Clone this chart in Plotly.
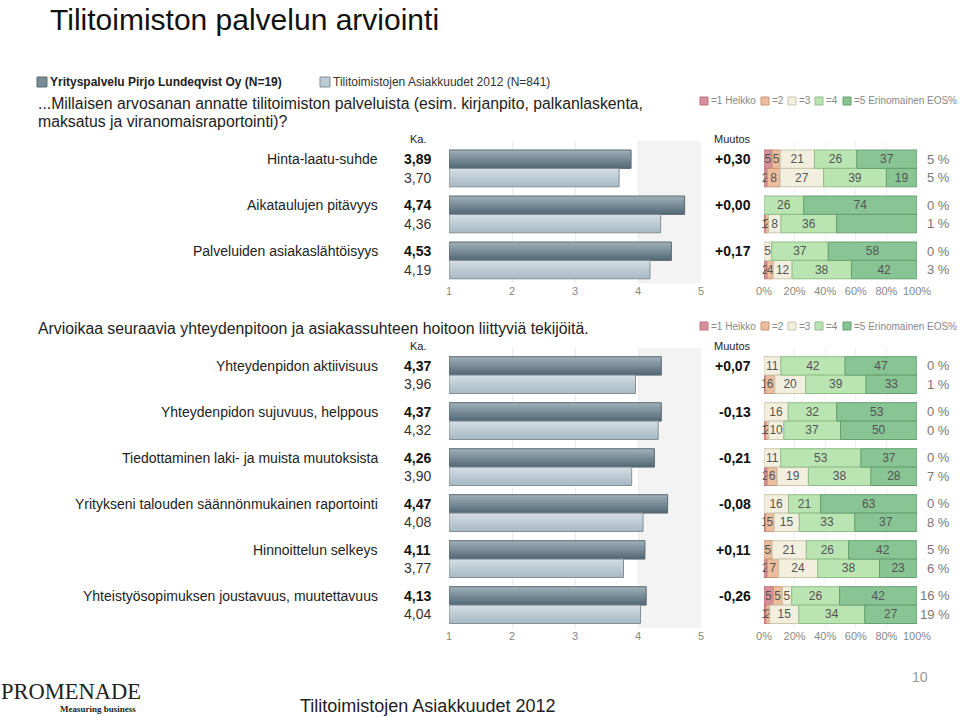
import plotly.graph_objects as go

W, H = 960, 717


def px(x):
    return x / W


def py(y):
    return 1 - y / H


# ---- data ----
company_name = "Yrityspalvelu Pirjo Lundeqvist Oy (N=19)"
bench_name = "Tilitoimistojen Asiakkuudet 2012 (N=841)"
level_labels = ["=1 Heikko", "=2", "=3", "=4", "=5 Erinomainen"]
pct_ticks = [0, 20, 40, 60, 80, 100]

s1_question = ["...Millaisen arvosanan annatte tilitoimiston palveluista (esim. kirjanpito, palkanlaskenta,",
               "maksatus ja viranomaisraportointi)?"]
s1_items = ["Hinta-laatu-suhde", "Aikataulujen pitävyys", "Palveluiden asiakaslähtöisyys"]
s1_company_mean = [3.89, 4.74, 4.53]
s1_bench_mean = [3.70, 4.36, 4.19]
s1_change = [0.30, 0.00, 0.17]
s1_company_dist = [[5, 5, 21, 26, 37], [0, 0, 0, 26, 74], [0, 0, 5, 37, 58]]
s1_bench_dist = [[2, 8, 27, 39, 19], [1, 2, 8, 36, 52], [2, 4, 12, 38, 42]]
s1_company_eos = [5, 0, 0]
s1_bench_eos = [5, 1, 3]

s2_question = ["Arvioikaa seuraavia yhteydenpitoon ja asiakassuhteen hoitoon liittyviä tekijöitä."]
s2_items = ["Yhteydenpidon aktiivisuus", "Yhteydenpidon sujuvuus, helppous",
            "Tiedottaminen laki- ja muista muutoksista",
            "Yritykseni talouden säännönmukainen raportointi", "Hinnoittelun selkeys",
            "Yhteistyösopimuksen joustavuus, muutettavuus"]
s2_company_mean = [4.37, 4.37, 4.26, 4.47, 4.11, 4.13]
s2_bench_mean = [3.96, 4.32, 3.90, 4.08, 3.77, 4.04]
s2_change = [0.07, -0.13, -0.21, -0.08, 0.11, -0.26]
s2_company_dist = [[0, 0, 11, 42, 47], [0, 0, 16, 32, 53], [0, 0, 11, 53, 37],
                   [0, 0, 16, 21, 63], [0, 5, 21, 26, 42], [5, 5, 5, 26, 42]]
s2_bench_dist = [[1, 6, 20, 39, 33], [1, 2, 10, 37, 50], [2, 6, 19, 38, 28],
                 [1, 5, 15, 33, 37], [2, 7, 24, 38, 23], [1, 2, 15, 34, 27]]
s2_company_eos = [0, 0, 0, 0, 5, 16]
s2_bench_eos = [1, 0, 7, 8, 6, 19]

# ---- styling ----
FONT = "Liberation Sans, Arial, sans-serif"
SERIF = "Liberation Serif, DejaVu Serif, serif"
level_colors = ["#d98f9b", "#ecbd9d", "#f2efdf", "#bae4b2", "#88c494"]
level_lines = ["#b7737f", "#c99877", "#cbc6ac", "#8fbf88", "#66a070"]
dark_top, dark_bottom, dark_line = (0x9c, 0xad, 0xb6), (0x55, 0x6b, 0x78), "#5e6a70"
light_top, light_bottom, light_line = (0xd2, 0xdc, 0xe2), (0xa8, 0xbb, 0xc6), "#858f95"
BANDS = 9
UNIT = 46  # px per item row pair


def mix(c0, c1, t):
    return "rgb(%d,%d,%d)" % tuple(round(a + (b - a) * t) for a, b in zip(c0, c1))


sections = [
    dict(items=s1_items, cm=s1_company_mean, bm=s1_bench_mean, ch=s1_change,
         cd=s1_company_dist, bd=s1_bench_dist, ce=s1_company_eos, be=s1_bench_eos,
         question=s1_question, qy=104, legy=101, heady=139, top=150, ax=("x", "x2", "y")),
    dict(items=s2_items, cm=s2_company_mean, bm=s2_bench_mean, ch=s2_change,
         cd=s2_company_dist, bd=s2_bench_dist, ce=s2_company_eos, be=s2_bench_eos,
         question=s2_question, qy=329, legy=326, heady=346, top=356.7, ax=("x3", "x4", "y2")),
]

fig = go.Figure()
annotations = []
shapes = []


def note(text, x, y, yref="paper", size=14, color="#222", xanchor="left", bold=False, family=FONT):
    if bold:
        text = "<b>" + text + "</b>"
    annotations.append(dict(text=text, x=x, y=y, xref="paper", yref=yref, showarrow=False,
                            xanchor=xanchor, yanchor="middle", borderpad=0,
                            font=dict(size=size, color=color, family=family)))


def mean_bars(ys, means, top, bottom, line, xm, ya, name):
    # overlapping bands mimic the vertical gradient, outline drawn on top
    step = 0.4 / BANDS
    for j in range(BANDS):
        w = step * 1.6 if j < BANDS - 1 else step
        fig.add_trace(go.Bar(orientation="h", y=ys, x=[m - 1 for m in means], base=1,
                             width=w, offset=-0.2 + j * step,
                             marker=dict(color=mix(top, bottom, j / (BANDS - 1)), line=dict(width=0)),
                             xaxis=xm, yaxis=ya, name=name, showlegend=False, hoverinfo="skip"))
    fig.add_trace(go.Bar(orientation="h", y=ys, x=[m - 1 for m in means], base=1, width=0.4,
                         marker=dict(color="rgba(0,0,0,0)", line=dict(color=line, width=1)),
                         xaxis=xm, yaxis=ya, name=name, showlegend=False))


layout_axes = {}
for si, s in enumerate(sections):
    xm, xd, ya = s["ax"]
    n = len(s["items"])
    yc = [i + 0.2 for i in range(n)]
    yb = [i + 0.6 for i in range(n)]

    mean_bars(yc, s["cm"], dark_top, dark_bottom, dark_line, xm, ya, company_name)
    mean_bars(yb, s["bm"], light_top, light_bottom, light_line, xm, ya, bench_name)

    # distribution bars (normalised to 100 %)
    rows = s["cd"] + s["bd"]
    ys = yc + yb
    shares = [[v / sum(r) * 100 for v in r] for r in rows]
    for k in range(5):
        base = [sum(sh[:k]) for sh in shares]
        fig.add_trace(go.Bar(orientation="h", y=ys, x=[sh[k] for sh in shares], base=base, width=0.4,
                             marker=dict(color=level_colors[k], line=dict(color=level_lines[k], width=1)),
                             text=[str(r[k]) if r[k] > 0 else "" for r in rows],
                             textposition="inside", insidetextanchor="middle", textangle=0,
                             textfont=dict(size=12, color="#555", family=FONT), cliponaxis=False,
                             xaxis=xd, yaxis=ya, name=level_labels[k], showlegend=False))

    # shaded 4..5 zone
    shapes.append(dict(type="rect", xref=xm, yref=ya + " domain", x0=4, x1=5, y0=0, y1=1,
                       fillcolor="#f3f3f3", line=dict(width=0), layer="below"))

    top = s["top"]
    ybottom = top + (n - 0.1) * UNIT
    ytop = top - 0.2 * UNIT
    layout_axes["xaxis" + ("" if si == 0 else "3")] = dict(
        domain=[px(449), px(701)], range=[1, 5], anchor=ya, tickvals=[1, 2, 3, 4, 5],
        showgrid=True, gridcolor="#ececec", zeroline=False, showline=False, automargin=False,
        tickfont=dict(size=11, color="#888", family=FONT))
    layout_axes["xaxis" + ("2" if si == 0 else "4")] = dict(
        domain=[px(764), px(917)], range=[0, 100], anchor=ya, tickvals=pct_ticks,
        ticktext=[f"{t}%" for t in pct_ticks], showgrid=True, gridcolor="#efefef", automargin=False,
        zeroline=False, showline=False, tickfont=dict(size=11, color="#888", family=FONT))
    layout_axes["yaxis" + ("" if si == 0 else "2")] = dict(
        domain=[py(ybottom), py(ytop)], range=[n - 0.1, -0.2], anchor=xm, visible=False,
        automargin=False)

    # text columns
    for i in range(n):
        note(s["items"][i], px(379), yc[i], yref=ya, xanchor="right")
        note(f"{s['cm'][i]:.2f}".replace(".", ","), px(432), yc[i], yref=ya, xanchor="right", bold=True, color="#111")
        note(f"{s['bm'][i]:.2f}".replace(".", ","), px(432), yb[i], yref=ya, xanchor="right", color="#333")
        note(f"{s['ch'][i]:+.2f}".replace(".", ","), px(752), yc[i], yref=ya, xanchor="right", bold=True, color="#111")
        note(f"{s['ce'][i]} %", px(951), yc[i], yref=ya, xanchor="right", size=13, color="#777")
        note(f"{s['be'][i]} %", px(951), yb[i], yref=ya, xanchor="right", size=13, color="#777")

    # headers
    note("Ka.", px(418), py(s["heady"]), size=11, xanchor="center")
    note("Muutos", px(732), py(s["heady"]), size=11, xanchor="center")
    for li, line in enumerate(s["question"]):
        note(line, px(37), py(s["qy"] + 17 * li), size=15.8)

    # level legend
    sq_x = [700, 761, 788, 815, 843]
    ly = s["legy"]
    for k in range(5):
        shapes.append(dict(type="rect", xref="paper", yref="paper", x0=px(sq_x[k]), x1=px(sq_x[k] + 8),
                           y0=py(ly + 4), y1=py(ly - 4), fillcolor=level_colors[k],
                           line=dict(color=level_lines[k], width=1)))
        note(level_labels[k], px(sq_x[k] + 10), py(ly), size=10, color="#888")
    note("EOS%", px(958), py(ly), size=10, color="#888", xanchor="right")

# title and series legend
note("Tilitoimiston palvelun arviointi", px(49), py(19), size=30, color="#111")
shapes.append(dict(type="rect", xref="paper", yref="paper", x0=px(37), x1=px(47), y0=py(87), y1=py(77),
                   fillcolor=mix(dark_top, dark_bottom, 0.5), line=dict(color=dark_line, width=1)))
note(company_name, px(49), py(82), size=12, bold=True, color="#222")
shapes.append(dict(type="rect", xref="paper", yref="paper", x0=px(320), x1=px(330), y0=py(87), y1=py(77),
                   fillcolor=mix(light_top, light_bottom, 0.5), line=dict(color=light_line, width=1)))
note(bench_name, px(332), py(82), size=12, color="#333")

# footer
note("PROMENADE", px(0), py(691), size=22.5, color="#222", family=SERIF)
note("<b>Measuring business</b>", px(137), py(709), size=9, color="#222", xanchor="right", family=SERIF)
note("Tilitoimistojen Asiakkuudet 2012", px(427), py(706), size=18, color="#222", xanchor="center")
note("10", px(920), py(677), size=14, color="#999", xanchor="center")

fig.update_layout(
    width=W, height=H, margin=dict(l=0, r=0, t=0, b=0, autoexpand=False), autosize=False,
    paper_bgcolor="white", plot_bgcolor="rgba(0,0,0,0)",
    barmode="overlay", showlegend=False,
    uniformtext=dict(minsize=12, mode="show"),
    font=dict(family=FONT),
    annotations=annotations, shapes=shapes,
    **layout_axes,
)

page_fix = ("document.documentElement.style.overflow='hidden';"
            "document.body.style.margin='0';document.body.style.overflow='hidden';")
fig.write_html("out.html", config={"responsive": False, "displayModeBar": False},
               post_script=page_fix)
